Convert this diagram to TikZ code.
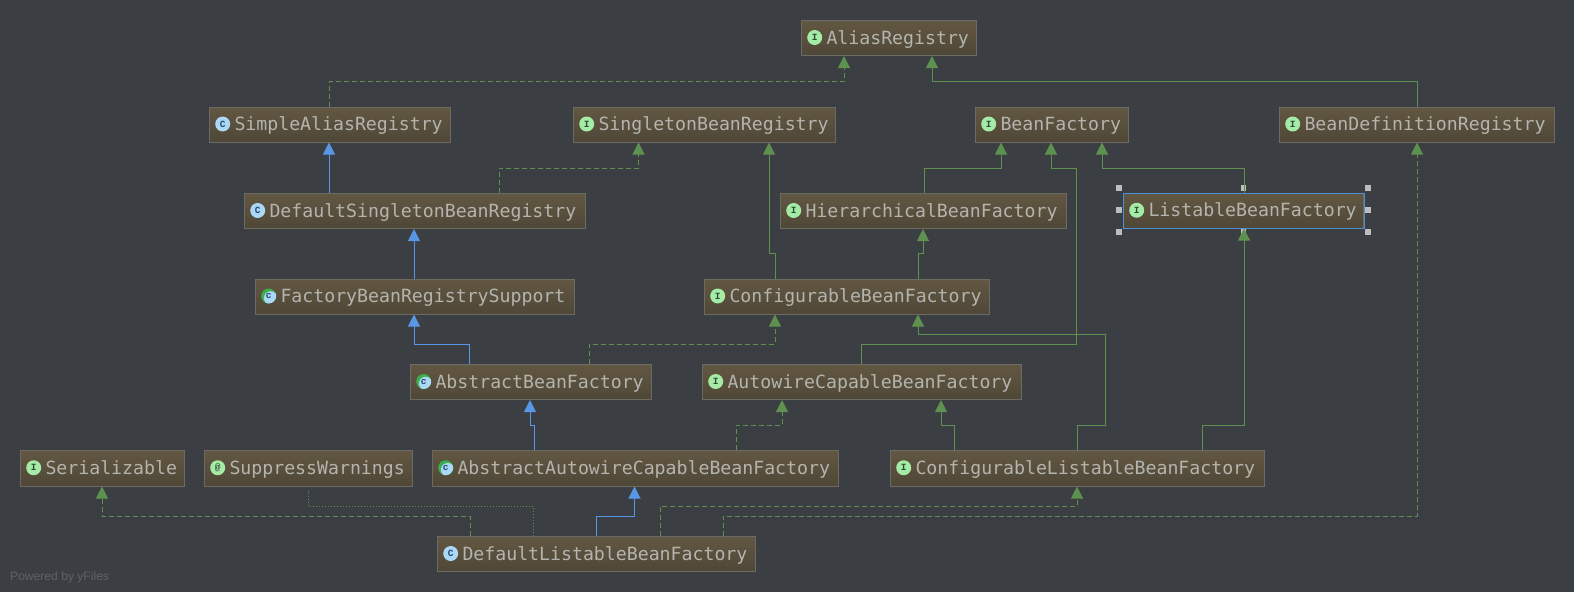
\documentclass[tikz,border=0pt]{standalone}
\usepackage{fontspec}
\setmainfont{Liberation Sans}
\newfontfamily\labelfont{DejaVu Sans Mono}
\newfontfamily\iconfont{Liberation Mono}
\usetikzlibrary{arrows.meta}
\definecolor{bg}{HTML}{3B3E42}
\definecolor{boxtop}{HTML}{625742}
\definecolor{boxbot}{HTML}{4F4737}
\definecolor{boxline}{HTML}{6C6B63}
\definecolor{labeltxt}{HTML}{B4B4AE}
\definecolor{edgegreen}{HTML}{5E9150}
\definecolor{edgeblue}{HTML}{5A96E6}
\definecolor{selblue}{HTML}{4F8FD6}
\definecolor{handlegrey}{HTML}{BDBDBD}
\definecolor{icongreen}{HTML}{A4EBA6}
\definecolor{iconblue}{HTML}{ABD8F6}
\definecolor{icondark}{HTML}{2E4A38}
\definecolor{iconnavy}{HTML}{1F4A70}
\definecolor{iconarc}{HTML}{3DAF4A}
\definecolor{footer}{HTML}{5E6266}
\tikzset{
  classbox/.style={draw=boxline,line width=1pt,top color=boxtop,bottom color=boxbot,anchor=north west,inner sep=0pt,
     text=labeltxt,font=\labelfont\fontsize{18.2}{20}\selectfont,text height=14.5pt,text depth=2.5pt},
  selected/.style={draw=selblue},
  iconbase/.style={circle,minimum size=15pt,inner sep=0pt,text=icondark,font=\iconfont\bfseries\fontsize{9.5}{9.5}\selectfont},
  iconI/.style={iconbase,fill=icongreen},
  iconAt/.style={iconbase,fill=icongreen},
  iconC/.style={iconbase,fill=iconblue,text=iconnavy},
  iconA/.style={iconbase,fill=iconarc,text=iconnavy,path picture={\fill[iconblue] ([xshift=2pt,yshift=-2pt]path picture bounding box.center) circle (6.8pt);}},
  handle/.style={fill=handlegrey,minimum size=5.5pt,inner sep=0pt},
  rel/.style={line width=1pt,-{Triangle[width=12pt,length=12pt]}},
  realizes/.style={rel,draw=edgegreen,dash pattern=on 5pt off 3pt},
  extendsI/.style={rel,draw=edgegreen},
  extendsC/.style={rel,draw=edgeblue},
  annotated/.style={line width=1pt,draw=edgegreen,dash pattern=on 1.5pt off 1.5pt},
}
% name, left, top, right, bottom, icon style, icon letter, text
\newcommand{\classnode}[8]{%
  \pgfmathsetmacro{\bw}{#4-#2}\pgfmathsetmacro{\bh}{#5-#3}%
  \node[classbox,minimum width=\bw pt,minimum height=\bh pt] (#1) at (#2,#3)
     {\makebox[\bw pt][l]{\hspace{25pt}#8}};
  \node[#6] (#1icon) at ([xshift=13.7pt,yshift=0.5pt]#1.west) {#7};
}
\begin{document}
\begin{tikzpicture}[x=1pt,y=-1pt]
\path[use as bounding box,fill=bg] (0,0) rectangle (1574,592);

\classnode{alias}{801}{20}{976}{55}{iconI}{I}{AliasRegistry}
\classnode{simple}{209}{106.5}{450}{141.5}{iconC}{C}{SimpleAliasRegistry}
\classnode{singleton}{573}{106.5}{835}{141.5}{iconI}{I}{SingletonBeanRegistry}
\classnode{beanf}{975}{106.5}{1128}{141.5}{iconI}{I}{BeanFactory}
\classnode{bdr}{1279}{106.5}{1554}{141.5}{iconI}{I}{BeanDefinitionRegistry}
\classnode{dsb}{244}{193}{585}{228}{iconC}{C}{DefaultSingletonBeanRegistry}
\classnode{hier}{780}{193}{1066}{228}{iconI}{I}{HierarchicalBeanFactory}
\classnode{fbrs}{255}{278.5}{574}{313.5}{iconA}{c}{FactoryBeanRegistrySupport}
\classnode{conf}{704}{278.5}{989}{313.5}{iconI}{I}{ConfigurableBeanFactory}
\classnode{abf}{410}{364}{651}{399}{iconA}{c}{AbstractBeanFactory}
\classnode{acbf}{702}{364}{1021}{399}{iconI}{I}{AutowireCapableBeanFactory}
\classnode{ser}{20}{450}{184}{485.5}{iconI}{I}{Serializable}
\classnode{sup}{204}{450}{412}{485.5}{iconAt}{@}{SuppressWarnings}
\classnode{aacbf}{432}{450}{838}{485.5}{iconA}{c}{AbstractAutowireCapableBeanFactory}
\classnode{clbf}{890}{450}{1264}{485.5}{iconI}{I}{ConfigurableListableBeanFactory}
\classnode{dlbf}{437}{536}{755}{571}{iconC}{C}{DefaultListableBeanFactory}

% selected node
\classnode{list}{1123}{193}{1363}{227.5}{iconI}{I}{ListableBeanFactory}
\draw[selected,line width=1pt] (list.north west) rectangle (list.south east);
\node[handle] (h1) at (1119,188) {};
\node[handle] (h2) at (1243.5,188) {};
\node[handle] (h3) at (1368,188) {};
\node[handle] (h4) at (1119,210) {};
\node[handle] (h5) at (1368,210) {};
\node[handle] (h6) at (1119,232) {};
\node[handle] (h7) at (1243.5,232) {};
\node[handle] (h8) at (1368,232) {};

% connectors
\draw[realizes] ([xshift=120pt]simple.north west) -- ++(0,-25) -| ([xshift=43pt]alias.south west);
\draw[extendsI] ([xshift=138pt]bdr.north west) -- ++(0,-25) -| ([xshift=131pt]alias.south west);
\draw[extendsC] ([xshift=85pt]dsb.north west) -- ([xshift=120pt]simple.south west);
\draw[realizes] ([xshift=255pt]dsb.north west) -- ++(0,-25) -| ([xshift=65.5pt]singleton.south west);
\draw[extendsI] ([xshift=71pt]conf.north west) -- ++(0,-25) -| ([xshift=196pt]singleton.south west);
\draw[extendsI] ([xshift=144pt]hier.north west) -- ++(0,-25) -| ([xshift=26pt]beanf.south west);
\draw[extendsI] ([xshift=159pt]acbf.north west) -- ++(0,-20) -- ++(215,0) -- ++(0,-176) -| ([xshift=76pt]beanf.south west);
\draw[extendsI] ([xshift=121pt]list.north west) -- ++(0,-25) -| ([xshift=127pt]beanf.south west);
\draw[extendsI] ([xshift=214pt]conf.north west) -- ++(0,-25) -| ([xshift=143pt]hier.south west);
\draw[extendsC] ([xshift=159pt]fbrs.north west) -- ([xshift=170pt]dsb.south west);
\draw[extendsC] ([xshift=59pt]abf.north west) -- ++(0,-20) -| ([xshift=159pt]fbrs.south west);
\draw[realizes] ([xshift=179pt]abf.north west) -- ++(0,-20) -| ([xshift=71pt]conf.south west);
\draw[extendsI] ([xshift=187pt]clbf.north west) -- ++(0,-25) -- ++(28,0) -- ++(0,-90.5) -| ([xshift=214pt]conf.south west);
\draw[extendsI] ([xshift=64pt]clbf.north west) -- ++(0,-25) -| ([xshift=239pt]acbf.south west);
\draw[extendsI] ([xshift=312pt]clbf.north west) -- ++(0,-25) -| ([xshift=121pt]list.south west);
\draw[extendsC] ([xshift=102pt]aacbf.north west) -- ++(0,-25) -| ([xshift=120pt]abf.south west);
\draw[realizes] ([xshift=304pt]aacbf.north west) -- ++(0,-25) -| ([xshift=80pt]acbf.south west);
\draw[extendsC] ([xshift=159pt]dlbf.north west) -- ++(0,-20) -| ([xshift=202.5pt]aacbf.south west);
\draw[realizes] ([xshift=223pt]dlbf.north west) -- ++(0,-30) -| ([xshift=187pt]clbf.south west);
\draw[realizes] ([xshift=286pt]dlbf.north west) -- ++(0,-20) -| ([xshift=138pt]bdr.south west);
\draw[realizes] ([xshift=33pt]dlbf.north west) -- ++(0,-20) -| ([xshift=82pt]ser.south west);
\draw[annotated] ([xshift=96pt]dlbf.north west) -- ++(0,-30) -| ([xshift=104pt,yshift=-4pt]sup.south west);

\node[anchor=west,inner sep=0pt,text=footer,font=\fontsize{12.1}{14}\selectfont] (powered) at (10,577) {Powered by yFiles};
\end{tikzpicture}
\end{document}
